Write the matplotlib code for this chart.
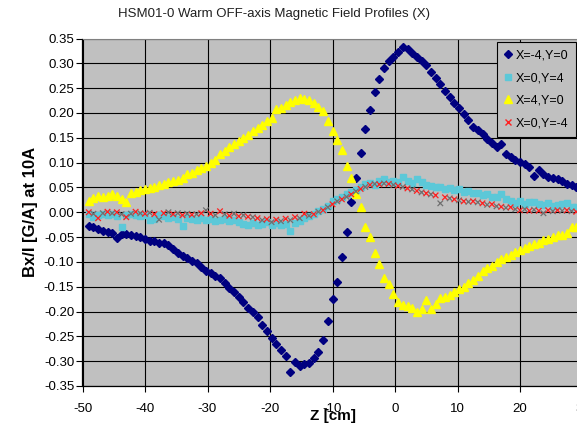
import matplotlib
matplotlib.use("Agg")
import matplotlib.pyplot as plt
import numpy as np

plt.rcParams['font.family'] = ['Liberation Sans', 'DejaVu Sans']
plt.rcParams['axes.unicode_minus'] = False

# Measurement positions along the axis [cm]
z_cm = [-49.00, -48.25, -47.50, -46.75, -46.00, -45.25, -44.50, -43.75, -43.00, -42.25,
        -41.50, -40.75, -40.00, -39.25, -38.50, -37.75, -37.00, -36.25, -35.50, -34.75,
        -34.00, -33.25, -32.50, -31.75, -31.00, -30.25, -29.50, -28.75, -28.00, -27.25,
        -26.50, -25.75, -25.00, -24.25, -23.50, -22.75, -22.00, -21.25, -20.50, -19.75,
        -19.00, -18.25, -17.50, -16.75, -16.00, -15.25, -14.50, -13.75, -13.00, -12.25,
        -11.50, -10.75, -10.00, -9.25, -8.50, -7.75, -7.00, -6.25, -5.50, -4.75,
        -4.00, -3.25, -2.50, -1.75, -1.00, -0.25, 0.50, 1.25, 2.00, 2.75,
        3.50, 4.25, 5.00, 5.75, 6.50, 7.25, 8.00, 8.75, 9.50, 10.25,
        11.00, 11.75, 12.50, 13.25, 14.00, 14.75, 15.50, 16.25, 17.00, 17.75,
        18.50, 19.25, 20.00, 20.75, 21.50, 22.25, 23.00, 23.75, 24.50, 25.25,
        26.00, 26.75, 27.50, 28.25, 29.00]

# Bx/I [G/A] for probe at X=-4, Y=0
bx_xm4_y0 = [-0.027, -0.030, -0.034, -0.037, -0.039, -0.041, -0.052, -0.043, -0.044, -0.045,
             -0.047, -0.050, -0.054, -0.057, -0.058, -0.061, -0.062, -0.066, -0.074, -0.083,
             -0.088, -0.093, -0.098, -0.103, -0.110, -0.118, -0.122, -0.128, -0.133, -0.143,
             -0.153, -0.161, -0.170, -0.180, -0.192, -0.201, -0.211, -0.228, -0.240, -0.253,
             -0.265, -0.278, -0.290, -0.321, -0.302, -0.310, -0.306, -0.303, -0.294, -0.281,
             -0.258, -0.220, -0.175, -0.140, -0.090, -0.040, 0.020, 0.070, 0.120, 0.168,
             0.205, 0.243, 0.268, 0.290, 0.305, 0.312, 0.323, 0.333, 0.329, 0.321,
             0.312, 0.305, 0.296, 0.283, 0.271, 0.259, 0.245, 0.232, 0.221, 0.211,
             0.197, 0.186, 0.172, 0.165, 0.157, 0.148, 0.139, 0.131, 0.138, 0.117,
             0.111, 0.106, 0.102, 0.097, 0.092, 0.073, 0.086, 0.078, 0.071, 0.068,
             0.066, 0.062, 0.057, 0.054, 0.051]

# Bx/I [G/A] for probe at X=0, Y=4
bx_x0_y4 = [-0.003, -0.010, -0.005, -0.004, -0.006, -0.004, -0.008, -0.029, -0.006, -0.004,
            -0.005, -0.007, -0.006, -0.016, -0.014, -0.005, -0.008, -0.012, -0.010, -0.014,
            -0.028, -0.012, -0.013, -0.015, -0.012, -0.016, -0.014, -0.017, -0.015, -0.013,
            -0.018, -0.016, -0.020, -0.024, -0.026, -0.022, -0.026, -0.024, -0.020, -0.025,
            -0.022, -0.026, -0.024, -0.038, -0.022, -0.018, -0.012, -0.008, -0.004, 0.002,
            0.006, 0.012, 0.022, 0.026, 0.031, 0.036, 0.041, 0.044, 0.050, 0.056,
            0.058, 0.055, 0.062, 0.066, 0.060, 0.062, 0.060, 0.071, 0.063, 0.058,
            0.066, 0.060, 0.055, 0.052, 0.050, 0.051, 0.046, 0.048, 0.045, 0.046,
            0.041, 0.043, 0.039, 0.038, 0.034, 0.036, 0.031, 0.030, 0.036, 0.026,
            0.022, 0.018, 0.022, 0.016, 0.020, 0.021, 0.016, 0.015, 0.018, 0.012,
            0.014, 0.016, 0.018, 0.011, 0.010]

# Bx/I [G/A] for probe at X=4, Y=0
bx_x4_y0 = [0.022, 0.028, 0.033, 0.030, 0.032, 0.036, 0.033, 0.026, 0.021, 0.038,
            0.041, 0.044, 0.046, 0.048, 0.051, 0.054, 0.057, 0.060, 0.062, 0.064,
            0.069, 0.077, 0.080, 0.085, 0.089, 0.094, 0.099, 0.106, 0.117, 0.124,
            0.131, 0.138, 0.143, 0.149, 0.156, 0.163, 0.169, 0.176, 0.184, 0.190,
            0.207, 0.210, 0.216, 0.222, 0.227, 0.231, 0.228, 0.226, 0.221, 0.213,
            0.203, 0.184, 0.164, 0.146, 0.125, 0.094, 0.069, 0.036, 0.010, -0.029,
            -0.050, -0.083, -0.105, -0.132, -0.145, -0.165, -0.180, -0.186, -0.189, -0.193,
            -0.201, -0.195, -0.176, -0.195, -0.185, -0.173, -0.170, -0.166, -0.160, -0.154,
            -0.150, -0.142, -0.136, -0.128, -0.118, -0.112, -0.108, -0.101, -0.095, -0.090,
            -0.086, -0.081, -0.077, -0.072, -0.067, -0.064, -0.061, -0.056, -0.054, -0.050,
            -0.046, -0.046, -0.041, -0.030, -0.030]

# Bx/I [G/A] for probe at X=0, Y=-4
bx_x0_ym4 = [0.000, -0.003, -0.012, -0.002, 0.001, -0.002, 0.000, -0.004, -0.010, -0.003,
             0.001, -0.002, -0.003, -0.001, -0.004, -0.015, -0.002, 0.000, -0.004, -0.002,
             -0.006, -0.003, -0.005, -0.004, -0.002, 0.004, -0.003, -0.006, 0.002, -0.004,
             -0.007, -0.003, -0.008, -0.006, -0.009, -0.010, -0.012, -0.016, -0.014, -0.020,
             -0.015, -0.018, -0.013, -0.016, -0.010, -0.012, -0.003, -0.007, -0.004, 0.001,
             0.004, 0.010, 0.016, 0.022, 0.026, 0.031, 0.036, 0.042, 0.047, 0.051,
             0.055, 0.057, 0.056, 0.058, 0.057, 0.055, 0.053, 0.051, 0.048, 0.046,
             0.043, 0.040, 0.038, 0.036, 0.034, 0.018, 0.030, 0.028, 0.026, 0.024,
             0.022, 0.021, 0.022, 0.020, 0.018, 0.015, 0.016, 0.012, 0.011, 0.009,
             0.010, 0.006, 0.004, 0.006, 0.003, 0.005, 0.003, -0.002, 0.004, 0.002,
             0.004, 0.003, 0.004, 0.002, 0.001]

labels = ['X=-4,Y=0', 'X=0,Y=4', 'X=4,Y=0', 'X=0,Y=-4']
x_ticks = [-50, -40, -30, -20, -10, 0, 10, 20, 30]
y_ticks = [0.35, 0.30, 0.25, 0.20, 0.15, 0.10, 0.05, 0.00,
           -0.05, -0.10, -0.15, -0.20, -0.25, -0.30, -0.35]

fig = plt.figure(figsize=(5.77, 4.24), dpi=100)
ax = fig.add_axes([82.5 / 577, 38 / 424, 500 / 577, 347.5 / 424])
ax.set_facecolor('#C0C0C0')

ax.plot(z_cm, bx_xm4_y0, linestyle='none', marker='D', markersize=4.0,
        color='#000080', label=labels[0], zorder=3)
ax.plot(z_cm, bx_x0_y4, linestyle='none', marker='s', markersize=5.0,
        color='#5CC8D8', label=labels[1], zorder=3)
ax.plot(z_cm, bx_x4_y0, linestyle='none', marker='^', markersize=6.0,
        color='#FFFF00', label=labels[2], zorder=3)
x_colors = ['#FF2020' if i % 2 == 0 else '#707070' for i in range(len(z_cm))]
ax.scatter(z_cm, bx_x0_ym4, marker='x', s=16, linewidths=0.9, c=x_colors, zorder=4)
ax.plot([], [], linestyle='none', marker='x', markersize=4, markeredgewidth=1.0,
        color='#FF2020', label=labels[3])

ax.set_xlim(-50, 30)
ax.set_ylim(-0.35, 0.35)
ax.set_xticks(x_ticks)
ax.set_yticks(y_ticks)
ax.set_yticklabels([f'{v:.2f}' for v in y_ticks])
ax.grid(True, color='black', linewidth=0.8)
ax.set_axisbelow(True)
ax.tick_params(axis='both', direction='out', length=4, width=0.8, labelsize=9.5,
               colors='black', pad=2)
ax.tick_params(axis='x', pad=8)
for side in ['left', 'bottom']:
    ax.spines[side].set_color('black')
    ax.spines[side].set_linewidth(0.9)
ax.spines['top'].set_color('#808080')
ax.spines['right'].set_visible(False)

ax.set_xlabel('Z [cm]', fontsize=11, fontweight='bold', labelpad=-4)
ax.set_ylabel('Bx/I [G/A] at 10A', fontsize=12, fontweight='bold', labelpad=4)

fig.text(274 / 577, 1 - 14 / 424, 'HSM01-0 Warm OFF-axis Magnetic Field Profiles (X)',
         ha='center', va='center', fontsize=9.5, color='#202020')

leg = ax.legend(loc='upper left', bbox_to_anchor=((497 - 82.5) / 500, (386 - 42) / 347.5),
                fontsize=9, frameon=True, fancybox=False, framealpha=1,
                facecolor='#C0C0C0', edgecolor='black', handlelength=0.6,
                handletextpad=0.3, labelspacing=0.85, borderpad=0.6,
                borderaxespad=0)
leg.get_frame().set_linewidth(0.8)

fig.savefig('out.png', dpi=100)
